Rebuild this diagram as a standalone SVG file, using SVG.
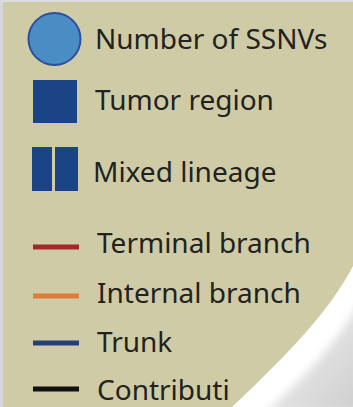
<svg xmlns="http://www.w3.org/2000/svg" width="353" height="407" viewBox="0 0 353 407">
  <defs>
    <style>
      .lbl { font-family: "Noto Sans", "Open Sans", sans-serif; font-size: 28px; fill: #22221e; }
      .sw { stroke-width: 5; stroke-linecap: butt; fill: none; }
      .box { fill: #1b4487; }
    </style>
    <linearGradient id="shade" x1="0" y1="0" x2="1" y2="1">
      <stop offset="0" stop-color="#f4f4f4"/>
      <stop offset="0.5" stop-color="#e2e2e2"/>
      <stop offset="1" stop-color="#cdcdcd"/>
    </linearGradient>
    <filter id="soft" x="-20%" y="-20%" width="140%" height="140%">
      <feGaussianBlur stdDeviation="4"/>
    </filter>
  </defs>

  <g id="background">
    <rect x="0" y="0" width="353" height="407" fill="#ffffff"/>
    <rect x="0" y="0" width="4" height="407" fill="#d6d6d8"/>
    <rect x="0" y="0" width="353" height="3" fill="#dcdcdc"/>
    <path d="M362,296 C347,332 306,376 266,412 L362,412 Z" fill="url(#shade)" filter="url(#soft)"/>
    <path d="M3,2 L353,2 L353,266 C330,310 292,350 232,407 L3,407 Z" fill="#d0cba7"/>
  </g>

  <g id="legend-ssnvs">
    <circle cx="54.5" cy="39" r="26" fill="#4a8cc4" stroke="#2d4f9c" stroke-width="2"/>
    <text class="lbl" x="95" y="49">Number of SSNVs</text>
  </g>

  <g id="legend-tumor-region">
    <rect class="box" x="33" y="80" width="44" height="43"/>
    <text class="lbl" x="95" y="110">Tumor region</text>
  </g>

  <g id="legend-mixed-lineage">
    <rect class="box" x="32" y="147" width="20" height="44"/>
    <rect class="box" x="55" y="147" width="23" height="44"/>
    <text class="lbl" x="93" y="182">Mixed lineage</text>
  </g>

  <g id="legend-terminal">
    <line class="sw" x1="33" y1="247" x2="79" y2="247" stroke="#a2282b"/>
    <text class="lbl" x="97" y="253">Terminal branch</text>
  </g>

  <g id="legend-internal">
    <line class="sw" x1="33" y1="296" x2="79" y2="296" stroke="#e07a3b"/>
    <text class="lbl" x="97" y="303">Internal branch</text>
  </g>

  <g id="legend-trunk">
    <line class="sw" x1="33" y1="343" x2="79" y2="343" stroke="#223f78"/>
    <text class="lbl" x="97" y="352">Trunk</text>
  </g>

  <g id="legend-contribution">
    <line class="sw" x1="33" y1="389" x2="79" y2="389" stroke="#111111"/>
    <text class="lbl" x="97" y="400">Contributi</text>
  </g>

  <g id="connectors"/>
</svg>
